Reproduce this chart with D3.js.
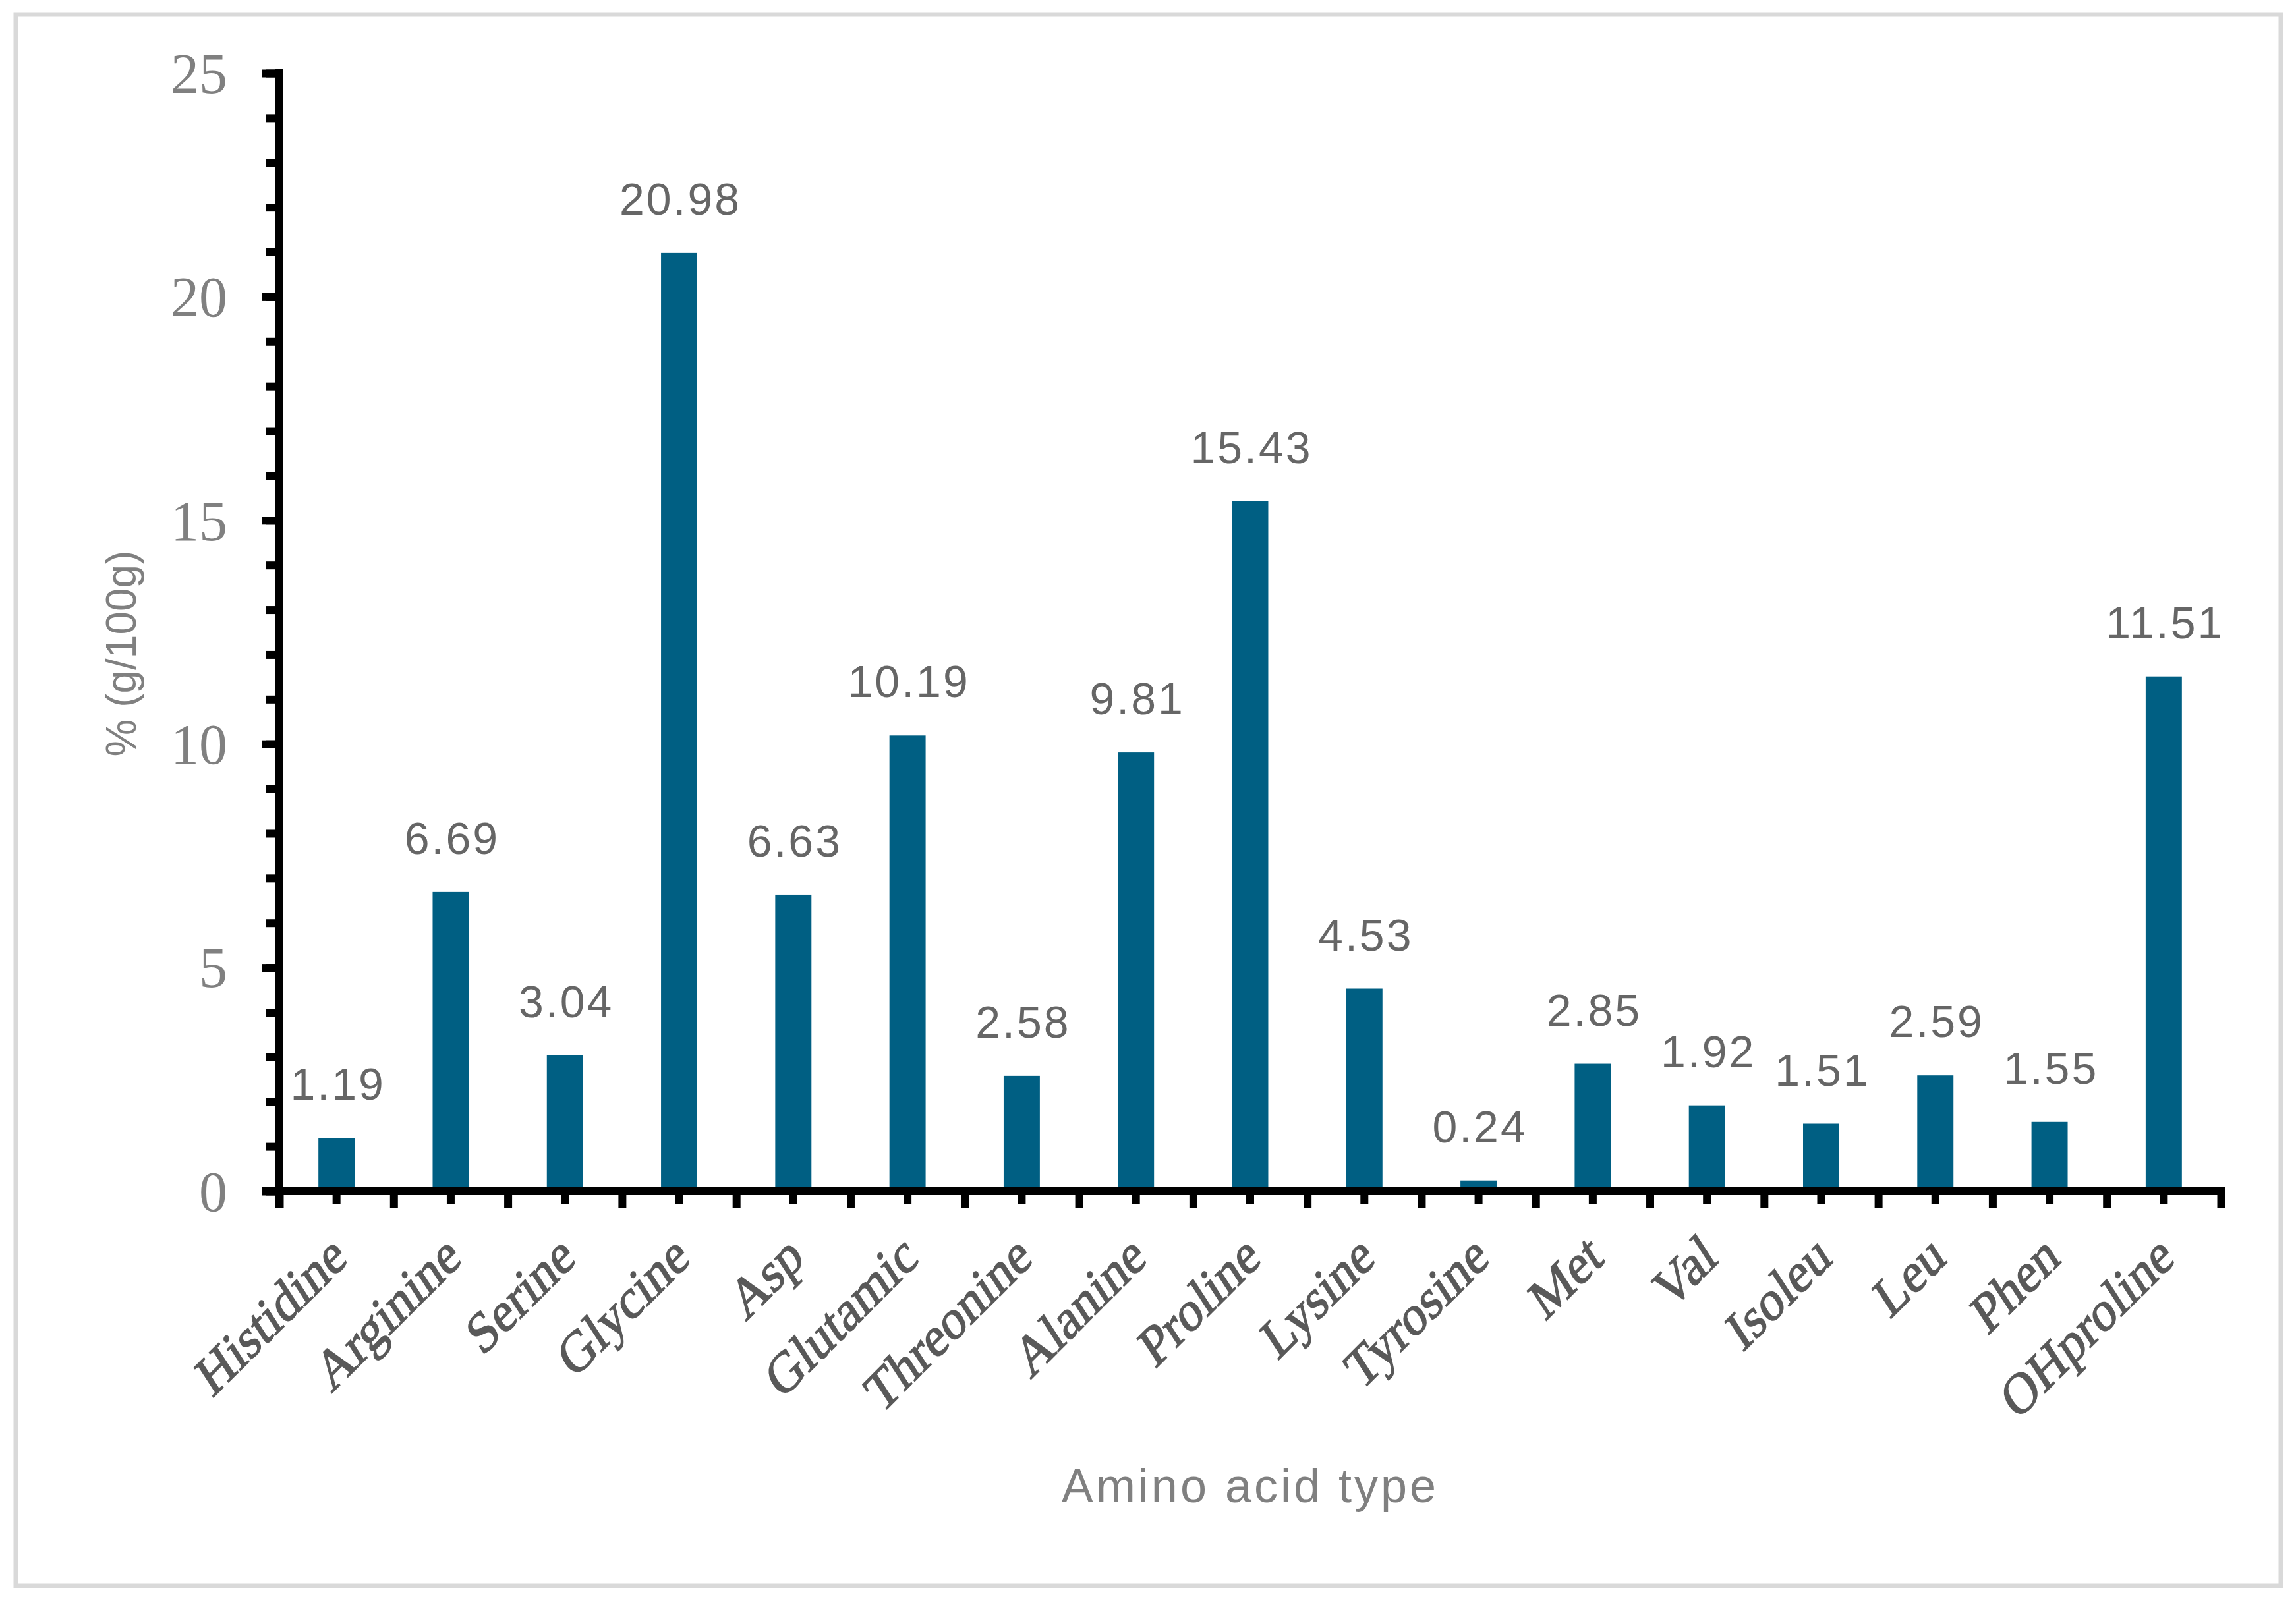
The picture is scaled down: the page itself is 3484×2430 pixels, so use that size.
<!DOCTYPE html>
<html lang="en">
<head>
    <meta charset="UTF-8">
    <title>Amino acid composition</title>
    <script src="https://d3js.org/d3.v7.min.js"></script>
    <style>
        body { margin: 0; background: #fff; }
        .cat text { font-family: "Liberation Serif", "Times New Roman", serif; fill: #595959; stroke: #595959; stroke-width: 1.6px; }
        .yax text { font-family: "Liberation Serif", "Times New Roman", serif; fill: #808080; }
    </style>
</head>
<body>
    <svg width="3484" height="2430"></svg>
    <script>
        var categories = ['Histidine', 'Arginine', 'Serine', 'Glycine', 'Asp', 'Glutamic', 'Threonine', 'Alanine',
            'Proline', 'Lysine', 'Tyrosine', 'Met', 'Val', 'Isoleu', 'Leu', 'Phen', 'OHproline'];
        var values = [1.19, 6.69, 3.04, 20.98, 6.63, 10.19, 2.58, 9.81, 15.43, 4.53, 0.24, 2.85, 1.92, 1.51, 2.59, 1.55, 11.51];
        var yTicks = [0, 5, 10, 15, 20, 25];

        var plotL = 424, plotR = 3370, plotT = 111, plotB = 1808;
        var svg = d3.select('svg');

        // outer frame
        svg.append('rect')
            .attr('x', 24).attr('y', 22)
            .attr('width', 3437).attr('height', 2385)
            .attr('fill', 'none').attr('stroke', '#d9d9d9').attr('stroke-width', 7);

        var x = d3.scaleBand().domain(categories).range([plotL, plotR]).padding(0);
        var xEdge = d3.scaleLinear().domain([0, categories.length]).range([plotL, plotR]);
        var y = d3.scaleLinear().domain([0, 25]).range([plotB, plotT]);

        // bars
        var bw = x.bandwidth() * 0.317;
        svg.append('g').selectAll('rect').data(values)
            .enter().append('rect')
            .attr('x', (d, i) => x(categories[i]) + x.bandwidth() / 2 - bw / 2)
            .attr('y', d => y(d))
            .attr('width', bw)
            .attr('height', d => y(0) - y(d))
            .attr('fill', '#005f83');

        // value labels
        svg.append('g').selectAll('text').data(values)
            .enter().append('text')
            .attr('x', (d, i) => x(categories[i]) + x.bandwidth() / 2 + 2)
            .attr('y', d => y(d) - 58)
            .attr('text-anchor', 'middle')
            .style('font-family', '"Liberation Sans", Arial, sans-serif')
            .style('font-size', '68px')
            .style('letter-spacing', '3px')
            .style('fill', '#666666')
            .text(d => d.toFixed(2));

        // y axis: minor then major ticks
        svg.append('g')
            .attr('transform', 'translate(' + plotL + ',0)')
            .call(d3.axisLeft(y).tickValues(d3.range(0, 26)).tickSize(21).tickFormat(''))
            .call(g => g.select('.domain').remove())
            .selectAll('line').attr('stroke', '#000').attr('stroke-width', 12);

        var yAxis = svg.append('g').attr('class', 'yax')
            .attr('transform', 'translate(' + plotL + ',0)')
            .call(d3.axisLeft(y).tickValues(yTicks).tickSize(27).tickSizeOuter(0).tickPadding(52));
        yAxis.select('.domain').attr('stroke', '#000').attr('stroke-width', 12)
            .attr('d', 'M0,' + (plotT - 6) + 'V' + (plotB + 25));
        yAxis.selectAll('line').attr('stroke', '#000').attr('stroke-width', 12);
        yAxis.selectAll('text').style('font-size', '86px').attr('dy', '0.34em');

        // x axis: boundary ticks
        svg.append('g')
            .attr('transform', 'translate(0,' + plotB + ')')
            .call(d3.axisBottom(xEdge).tickValues(d3.range(0, categories.length + 1)).tickSize(25).tickFormat(''))
            .call(g => g.select('.domain').remove())
            .selectAll('line').attr('stroke', '#000').attr('stroke-width', 12);

        // category ticks + slanted labels
        var xAxis = svg.append('g').attr('class', 'cat')
            .attr('transform', 'translate(0,' + plotB + ')')
            .call(d3.axisBottom(x).tickSize(19).tickSizeOuter(0));
        xAxis.select('.domain').attr('stroke', '#000').attr('stroke-width', 12)
            .attr('d', 'M' + (plotL - 27) + ',0H' + (plotR + 6));
        xAxis.selectAll('line').attr('stroke', '#000').attr('stroke-width', 12);
        xAxis.selectAll('text')
            .attr('y', 0).attr('dy', 0)
            .attr('text-anchor', 'end')
            .attr('transform', 'translate(19,107) rotate(-45) skewX(-12)')
            .style('font-size', '80px');

        // axis titles
        svg.append('text')
            .attr('transform', 'translate(206,992) rotate(-90)')
            .attr('text-anchor', 'middle')
            .style('font-family', '"Liberation Sans", Arial, sans-serif')
            .style('font-size', '64px')
            .style('fill', '#808080')
            .text('% (g/100g)');

        svg.append('text')
            .attr('x', (plotL + plotR) / 2)
            .attr('y', 2280)
            .attr('text-anchor', 'middle')
            .style('font-family', '"Liberation Sans", Arial, sans-serif')
            .style('font-size', '72px')
            .style('letter-spacing', '4px')
            .style('fill', '#808080')
            .text('Amino acid type');
    </script>
</body>
</html>
